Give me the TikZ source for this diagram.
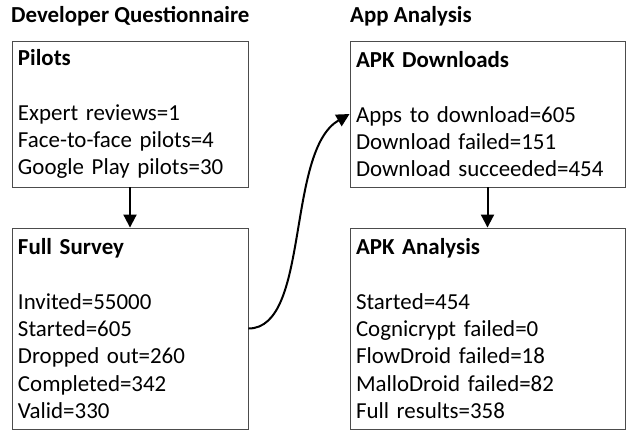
\documentclass[tikz,border=0pt]{standalone}
\usepackage{fontspec}
\setmainfont{Carlito}
\usetikzlibrary{arrows.meta}
\tikzset{
  box/.style={draw=black!70, line width=0.9bp, rectangle, inner xsep=6bp, inner ysep=0bp,
    align=left, font=\fontsize{23}{27.5}\selectfont},
  heading/.style={inner sep=0bp, anchor=west, font=\fontsize{23}{27}\selectfont\bfseries},
  flow/.style={line width=2bp, -{Triangle[width=13bp,length=13bp]}}
}
\begin{document}
\begin{tikzpicture}[x=1bp,y=-1bp]
\useasboundingbox (0,0) rectangle (626,431);
\node[heading] (h1) at (11,16) {Developer Questionnaire};
\node[heading] (h2) at (350,16) {App Analysis};
\node[box, minimum width=236bp, minimum height=146bp, text width=224bp] (pilots) at (130,114)
  {\textbf{Pilots}\\[27.5bp]Expert reviews=1\\Face-to-face pilots=4\\Google Play pilots=30};
\node[box, minimum width=236bp, minimum height=201bp, text width=224bp] (survey) at (130,328.5)
  {\textbf{Full Survey}\\[27.5bp]Invited=55000\\Started=605\\Dropped out=260\\Completed=342\\Valid=330};
\node[box, minimum width=275bp, minimum height=146bp, text width=263bp] (dl) at (487.5,114)
  {\textbf{APK Downloads}\\[27.5bp]Apps to download=605\\Download failed=151\\Download succeeded=454};
\node[box, minimum width=275bp, minimum height=201bp, text width=263bp] (ana) at (487.5,328.5)
  {\textbf{APK Analysis}\\[27.5bp]Started=454\\Cognicrypt failed=0\\FlowDroid failed=18\\MalloDroid failed=82\\Full results=358};
\draw[flow] (pilots.south) -- (survey.north);
\draw[flow] (dl.south) -- (ana.north);
\draw[flow] (survey.east) .. controls +(62,0) and +(-64,37) .. (dl.west);
\end{tikzpicture}
\end{document}
